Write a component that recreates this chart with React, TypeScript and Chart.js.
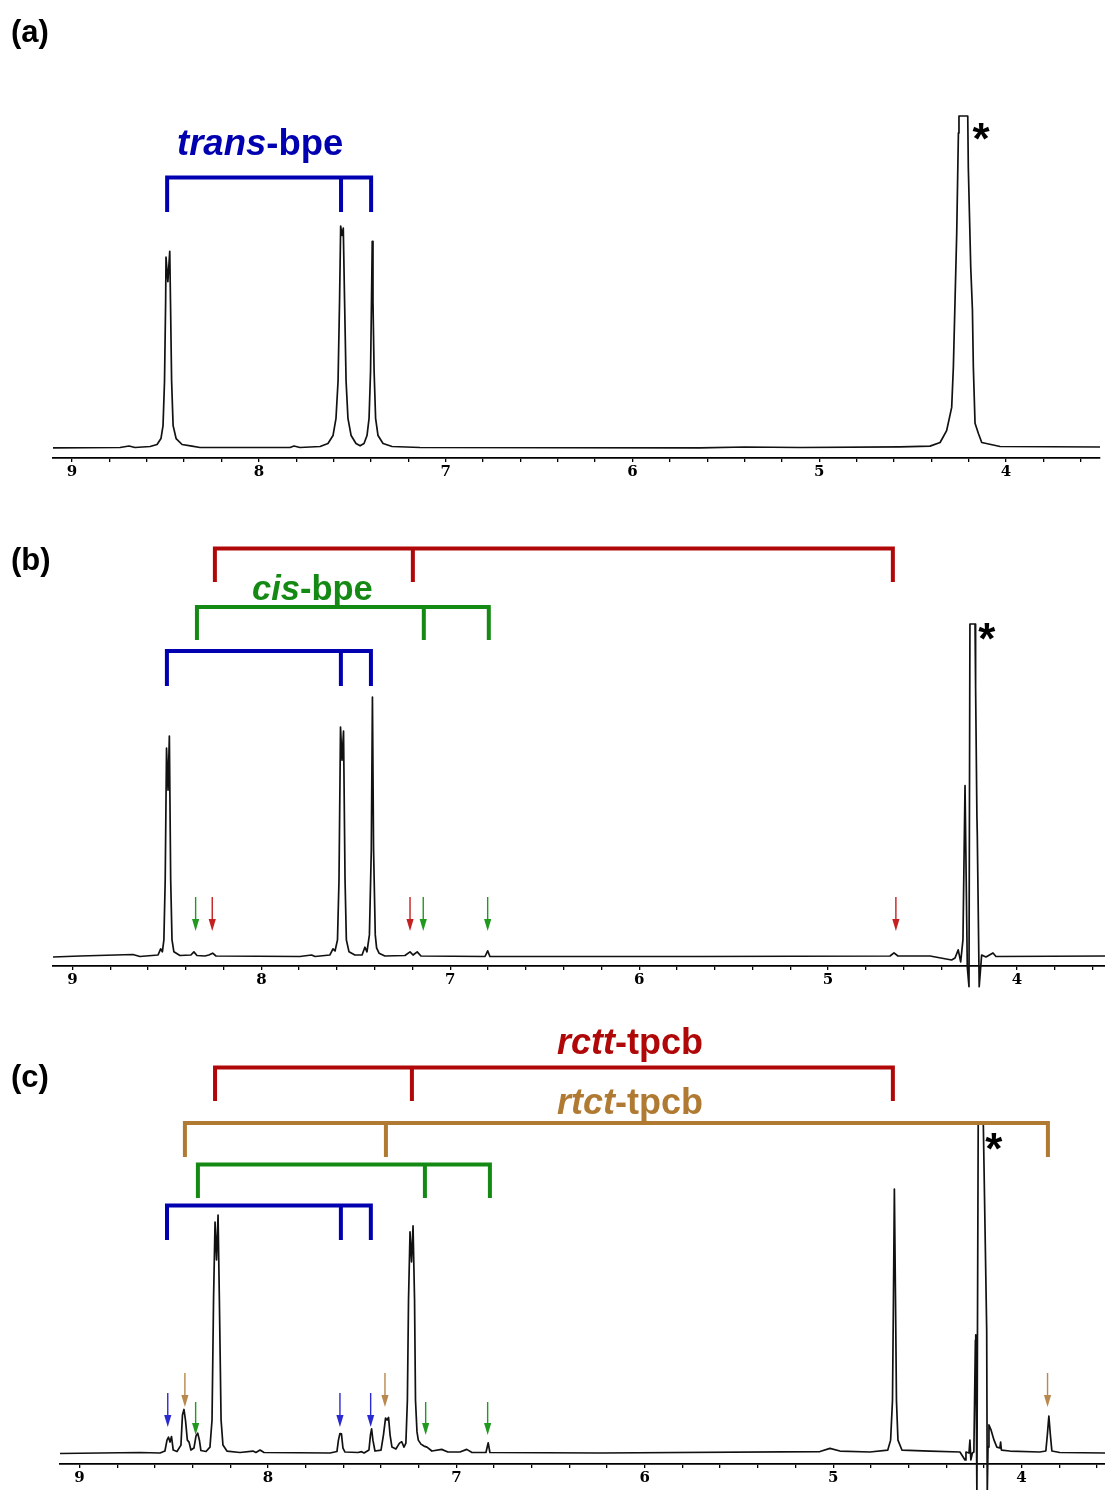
import React, { useEffect, useRef } from "react";
import { Chart, registerables } from "chart.js";
Chart.register(...registerables);

// ---------------- data: panel (a) ----------------
const PPM_A = [
  9.102, 8.743, 8.695, 8.663, 8.582, 8.545, 8.524, 8.513, 8.505, 8.499, 8.497, 8.487, 8.477, 8.473, 8.467,
  8.459, 8.443, 8.411, 8.358, 8.315, 7.833, 7.812, 7.78, 7.672, 7.63, 7.603, 7.587, 7.576, 7.568, 7.562,
  7.555, 7.548, 7.541, 7.533, 7.523, 7.506, 7.48, 7.458, 7.437, 7.421, 7.41, 7.402, 7.397, 7.393, 7.389,
  7.383, 7.375, 7.362, 7.335, 7.287, 7.137, 5.638, 5.397, 5.103, 4.567, 4.407, 4.353, 4.318, 4.291, 4.282,
  4.273, 4.264, 4.255, 4.252, 4.205, 4.202, 4.189, 4.18, 4.175, 4.166, 4.148, 4.13, 4.032, 3.497,
];
const INT_A = [
  -0.1, 0, 0.45, 0, 0.3, 0.9, 2.7, 6.6, 20, 44, 57.4, 50, 59.2, 44, 20,
  6.6, 2.7, 0.9, 0.4, 0, 0, 0.45, 0, 0.3, 1.2, 3.6, 8.8, 20, 44, 66.8,
  64, 66.2, 44, 20, 8.8, 3.6, 1.2, 0.5, 1.2, 3.6, 8.8, 23, 44, 62.2, 44,
  23, 8.8, 3.6, 1.2, 0.3, 0, -0.1, 0.15, 0, 0.2, 0.4, 1.5, 5.1, 12.1, 24.2,
  44.4, 64.7, 94.9, 100, 100, 84.6, 54.4, 41.7, 24.2, 7.3, 4.2, 1.5, 0.3, 0.15,
];

// ---------------- data: panel (b) ----------------
const PPM_B = [
  9.103, 8.96, 8.68, 8.643, 8.547, 8.533, 8.524, 8.516, 8.509, 8.502, 8.494, 8.487, 8.48, 8.473, 8.463,
  8.431, 8.373, 8.357, 8.341, 8.299, 8.278, 8.258, 8.24, 7.796, 7.734, 7.716, 7.637, 7.621, 7.61, 7.597,
  7.589, 7.581, 7.573, 7.565, 7.557, 7.55, 7.536, 7.505, 7.467, 7.452, 7.441, 7.428, 7.418, 7.412, 7.406,
  7.397, 7.39, 7.377, 7.346, 7.24, 7.213, 7.197, 7.175, 7.155, 6.816, 6.802, 6.79, 5.678, 4.672, 4.651,
  4.63, 4.46, 4.346, 4.328, 4.311, 4.298, 4.286, 4.275, 4.263, 4.254, 4.249, 4.222, 4.219, 4.212, 4.21,
  4.2, 4.187, 4.164, 4.127, 4.111, 3.534,
];
const INT_B = [
  -0.15, 0.15, 0.6, 0, 0.45, 2.3, 1.4, 5, 23, 62.7, 50, 66.3, 23, 5, 1.4,
  0.3, 0.45, 1.4, 0.3, 0.15, 0.45, 1, 0.15, 0, 0.45, 0, 0.45, 2.3, 1.65, 5,
  23, 69, 59, 67.8, 23, 5, 1.4, 0.45, 0.45, 2.8, 1.4, 6.5, 32, 78, 32,
  6.5, 2.6, 1, 0.15, 0.3, 1.4, 0.45, 1.4, 0.15, 0, 1.7, 0, 0, 0.15, 1.1,
  0.15, 0.15, -1.05, -0.45, 2, -1.6, 5, 51.4, -3.1, -9.1, 100, 100, 81, 42, 36.5,
  -9.1, 0.45, -0.15, 1.05, 0, 0.15,
];

// ---------------- data: panel (c) ----------------
const PPM_C = [
  9.104, 8.892, 8.679, 8.573, 8.547, 8.536, 8.528, 8.52, 8.512, 8.503, 8.483, 8.462, 8.454, 8.446, 8.438,
  8.428, 8.419, 8.409, 8.393, 8.382, 8.373, 8.364, 8.356, 8.329, 8.308, 8.297, 8.289, 8.281, 8.273, 8.265,
  8.258, 8.249, 8.239, 8.218, 8.149, 8.08, 8.064, 8.042, 8.021, 7.671, 7.634, 7.626, 7.618, 7.61, 7.602,
  7.591, 7.522, 7.503, 7.49, 7.464, 7.456, 7.45, 7.443, 7.432, 7.4, 7.387, 7.376, 7.368, 7.36, 7.352,
  7.342, 7.321, 7.302, 7.29, 7.278, 7.268, 7.26, 7.254, 7.246, 7.238, 7.23, 7.222, 7.217, 7.209, 7.202,
  7.188, 7.172, 7.156, 7.13, 7.078, 7.045, 6.981, 6.945, 6.917, 6.843, 6.831, 6.822, 6.238, 5.07, 5.017,
  4.964, 4.805, 4.71, 4.695, 4.685, 4.68, 4.675, 4.669, 4.664, 4.656, 4.635, 4.486, 4.327, 4.3, 4.295,
  4.279, 4.274, 4.269, 4.261, 4.253, 4.245, 4.243, 4.237, 4.23, 4.203, 4.185, 4.182, 4.178, 4.173, 4.162,
  4.146, 4.131, 4.115, 4.111, 4.107, 4.062, 3.903, 3.871, 3.863, 3.855, 3.847, 3.839, 3.797, 3.557,
];
const INT_C = [
  -0.15, 0, 0.15, 0, 0.6, 3.9, 4.8, 3.3, 5, 0.9, 0.45, 2.4, 11.5, 13.2, 10,
  3.9, 3.3, 0.9, 1.5, 5.2, 6, 3.9, 0.75, 0.45, 1.8, 10, 46.4, 70, 58.5, 72.1,
  46.4, 10, 2.4, 0.6, 0.15, 0.6, 0.15, 0.9, 0.15, 0, 0.45, 3.9, 5.9, 5.8, 1.5,
  0.3, 0.15, 0.4, 0, 0.9, 5.5, 7.3, 3.9, 0.6, 0.9, 5.5, 10.6, 10, 10.8, 5.5,
  1.8, 1.2, 3, 3.4, 1.8, 3, 16, 46.4, 67, 57.9, 68.8, 46.4, 16, 6.4, 3.9,
  2.7, 2.1, 1.8, 0.6, 1.1, 0.3, 0.3, 1.1, 0.15, 0.15, 3.1, 0.15, 0, 0.45, 1.4,
  0.6, 0.3, 0.9, 3.9, 16, 46.4, 80, 46.4, 16, 3.9, 0.9, 0.6, 0.3, -2.1, 0.3,
  0, 3.9, -2.1, 0, 0.3, 34.2, 35.8, -12.7, 100, 100, 37.3, -12.7, 1.8, 8.5, 7,
  3.9, 1.8, 1.5, 3.3, 0.9, 0.6, 0.3, 0.6, 5.5, 11.2, 5.5, 0.6, 0.15, 0,
];

// axis ranges (left = high ppm, right = low ppm)
const RANGE_A = [3.497, 9.102];
const RANGE_B = [3.534, 9.103];
const RANGE_C = [3.557, 9.104];
const TICK_STEP = 0.2;

// assignment brackets (ppm of each leg)
const TRANS_A = [8.491, 7.56, 7.399];
const RCTT_B = [8.246, 7.198, 4.657];
const CIS_B = [8.341, 7.14, 6.796];
const TRANS_B = [8.5, 7.579, 7.42];
const RCTT_C = [8.281, 7.236, 4.683];
const RTCT_C = [8.441, 7.374, 3.86];
const CIS_C = [8.372, 7.167, 6.822];
const TRANS_C = [8.536, 7.613, 7.454];

// marker arrows (ppm)
const ARROWS_B_CIS = [8.348, 7.143, 6.802];
const ARROWS_B_RCTT = [8.26, 7.213, 4.641];
const ARROWS_C_TRANS = [8.532, 7.618, 7.455];
const ARROWS_C_RTCT = [8.441, 7.379, 3.862];
const ARROWS_C_CIS = [8.384, 7.163, 6.834];

// solvent asterisk (ppm)
const STAR_A = 4.134;
const STAR_B = 4.159;
const STAR_C = 4.147;

// ---------------- styles ----------------
const BLUE = "#0000b0";
const RED = "#b00808";
const GREEN = "#148a14";
const TAN = "#b07a32";
const BLUE_AR = "#2a2ad0";
const RED_AR = "#c42020";
const GREEN_AR = "#1f9a1f";
const TAN_AR = "#b8884c";
const SANS = '"Liberation Sans", Arial, sans-serif';
const W = 1105;
const H = 1490;
const AXIS_H = 24;

type BracketSpec = { legs: number[]; color: string; top: number; bottom: number };
type ArrowSpec = { ppm: number[]; color: string; y1: number; y2: number };
type LabelSpec = { parts: [string, boolean][]; x: number; y: number; color: string; size: number };
type PanelCfg = {
  ppm: number[];
  ints: number[];
  range: number[];
  yMin: number;
  pad: { top: number; bottom: number; left: number; right: number };
  brackets: BracketSpec[];
  arrows: ArrowSpec[];
  labels: LabelSpec[];
  star: { ppm: number; y: number };
  tag: { text: string; y: number };
};

const PANELS: PanelCfg[] = [
  {
    ppm: PPM_A,
    ints: INT_A,
    range: RANGE_A,
    yMin: -3.17,
    pad: { top: 116, bottom: H - 458 - AXIS_H, left: 53, right: 5 },
    brackets: [{ legs: TRANS_A, color: BLUE, top: 177.5, bottom: 212 }],
    arrows: [],
    labels: [{ parts: [["trans", true], ["-bpe", false]], x: 177, y: 155, color: BLUE, size: 36.5 }],
    star: { ppm: STAR_A, y: 154 },
    tag: { text: "(a)", y: 42 },
  },
  {
    ppm: PPM_B,
    ints: INT_B,
    range: RANGE_B,
    yMin: -2.86,
    pad: { top: 624, bottom: H - 966 - AXIS_H, left: 53, right: 0 },
    brackets: [
      { legs: RCTT_B, color: RED, top: 548.5, bottom: 582 },
      { legs: CIS_B, color: GREEN, top: 607, bottom: 640 },
      { legs: TRANS_B, color: BLUE, top: 651, bottom: 686 },
    ],
    arrows: [
      { ppm: ARROWS_B_CIS, color: GREEN_AR, y1: 897, y2: 931 },
      { ppm: ARROWS_B_RCTT, color: RED_AR, y1: 897, y2: 931 },
    ],
    labels: [{ parts: [["cis", true], ["-bpe", false]], x: 252, y: 600, color: GREEN, size: 34.5 }],
    star: { ppm: STAR_B, y: 654 },
    tag: { text: "(b)", y: 570 },
  },
  {
    ppm: PPM_C,
    ints: INT_C,
    range: RANGE_C,
    yMin: -3.33,
    pad: { top: 1123, bottom: H - 1464 - AXIS_H, left: 60, right: 0 },
    brackets: [
      { legs: RCTT_C, color: RED, top: 1067.5, bottom: 1101 },
      { legs: RTCT_C, color: TAN, top: 1123, bottom: 1157 },
      { legs: CIS_C, color: GREEN, top: 1164.5, bottom: 1198 },
      { legs: TRANS_C, color: BLUE, top: 1205.5, bottom: 1240 },
    ],
    arrows: [
      { ppm: ARROWS_C_TRANS, color: BLUE_AR, y1: 1393, y2: 1427 },
      { ppm: ARROWS_C_RTCT, color: TAN_AR, y1: 1373, y2: 1407 },
      { ppm: ARROWS_C_CIS, color: GREEN_AR, y1: 1402, y2: 1435 },
    ],
    labels: [
      { parts: [["rctt", true], ["-tpcb", false]], x: 557, y: 1054, color: RED, size: 36 },
      { parts: [["rtct", true], ["-tpcb", false]], x: 557, y: 1114, color: TAN, size: 36 },
    ],
    star: { ppm: STAR_C, y: 1164 },
    tag: { text: "(c)", y: 1087 },
  },
];

function drawBracket(ctx: CanvasRenderingContext2D, xs: number[], b: BracketSpec) {
  const minX = Math.min(...xs);
  const maxX = Math.max(...xs);
  ctx.save();
  ctx.strokeStyle = b.color;
  ctx.lineWidth = 4;
  ctx.lineJoin = "miter";
  ctx.lineCap = "butt";
  ctx.beginPath();
  ctx.moveTo(minX, b.bottom);
  ctx.lineTo(minX, b.top);
  ctx.lineTo(maxX, b.top);
  ctx.lineTo(maxX, b.bottom);
  xs.forEach((x) => {
    if (x !== minX && x !== maxX) {
      ctx.moveTo(x, b.top);
      ctx.lineTo(x, b.bottom);
    }
  });
  ctx.stroke();
  ctx.restore();
}

function drawArrow(ctx: CanvasRenderingContext2D, x: number, y1: number, y2: number, color: string) {
  ctx.save();
  ctx.strokeStyle = color;
  ctx.fillStyle = color;
  ctx.lineWidth = 1.4;
  ctx.beginPath();
  ctx.moveTo(x, y1);
  ctx.lineTo(x, y2 - 10);
  ctx.stroke();
  ctx.beginPath();
  ctx.moveTo(x - 3.6, y2 - 12);
  ctx.lineTo(x + 3.6, y2 - 12);
  ctx.lineTo(x, y2);
  ctx.closePath();
  ctx.fill();
  ctx.restore();
}

function makePlugin(cfg: PanelCfg) {
  return {
    id: "nmrAnnotations",
    afterDraw(chart: any) {
      const ctx: CanvasRenderingContext2D = chart.ctx;
      const xs = chart.scales.x;
      const px = (v: number) => xs.getPixelForValue(v);
      cfg.brackets.forEach((b) => drawBracket(ctx, b.legs.map(px), b));
      cfg.arrows.forEach((a) => a.ppm.forEach((p) => drawArrow(ctx, px(p), a.y1, a.y2, a.color)));
      ctx.save();
      ctx.textBaseline = "alphabetic";
      cfg.labels.forEach((l) => {
        let x = l.x;
        ctx.fillStyle = l.color;
        l.parts.forEach(([t, it]) => {
          ctx.font = `${it ? "italic " : ""}bold ${l.size}px ${SANS}`;
          ctx.textAlign = "left";
          ctx.fillText(t, x, l.y);
          x += ctx.measureText(t).width;
        });
      });
      ctx.fillStyle = "#000";
      ctx.font = `bold 44px ${SANS}`;
      ctx.textAlign = "center";
      ctx.fillText("*", px(cfg.star.ppm), cfg.star.y);
      ctx.font = `bold 31px ${SANS}`;
      ctx.textAlign = "left";
      ctx.fillText(cfg.tag.text, 11, cfg.tag.y);
      ctx.restore();
    },
  };
}

function Panel({ cfg }: { cfg: PanelCfg }) {
  const ref = useRef<HTMLCanvasElement>(null);
  useEffect(() => {
    const data = cfg.ppm.map((p, i) => ({ x: p, y: cfg.ints[i] }));
    const chart = new Chart(ref.current as HTMLCanvasElement, {
      type: "scatter",
      data: {
        datasets: [
          {
            data,
            showLine: true,
            borderColor: "#111",
            borderWidth: 1.7,
            borderJoinStyle: "round",
            pointRadius: 0,
            tension: 0,
            clip: false as any,
          } as any,
        ],
      },
      options: {
        responsive: false,
        animation: false,
        devicePixelRatio: 1,
        events: [],
        layout: { padding: cfg.pad },
        plugins: { legend: { display: false }, tooltip: { enabled: false } },
        scales: {
          x: {
            type: "linear",
            reverse: true,
            min: cfg.range[0],
            max: cfg.range[1],
            afterFit: (axis: any) => {
              axis.height = AXIS_H;
            },
            border: { display: true, color: "#000", width: 1.8 },
            grid: { display: true, drawOnChartArea: false, drawTicks: true, tickLength: 4, color: "#000", lineWidth: 1.3 },
            ticks: {
              stepSize: TICK_STEP,
              includeBounds: false,
              autoSkip: false,
              maxRotation: 0,
              minRotation: 0,
              padding: 1,
              color: "#000",
              font: { family: '"DejaVu Serif", serif', weight: "bold", size: 15 },
              callback: (v: any) => {
                const n = Number(v);
                return Math.abs(n - Math.round(n)) < 1e-6 ? String(Math.round(n)) : "";
              },
            },
          },
          y: { type: "linear", display: false, min: cfg.yMin, max: 100 },
        },
      } as any,
      plugins: [makePlugin(cfg)],
    });
    return () => chart.destroy();
  }, [cfg]);
  return (
    <canvas
      ref={ref}
      width={W}
      height={H}
      style={{ position: "absolute", left: 0, top: 0, width: W, height: H }}
    />
  );
}

export default function App() {
  return (
    <div style={{ position: "absolute", left: 0, top: 0, width: W, height: H, background: "#fff", overflow: "hidden" }}>
      {PANELS.map((p, i) => (
        <Panel key={i} cfg={p} />
      ))}
    </div>
  );
}
